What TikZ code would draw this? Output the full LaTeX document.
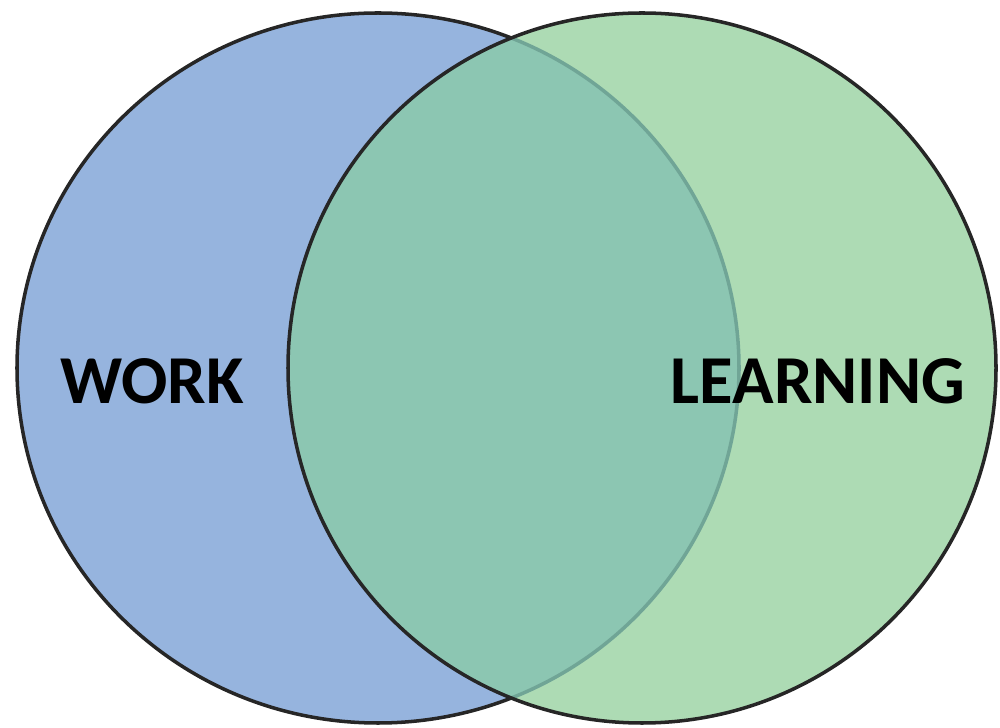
\documentclass[tikz,border=0pt]{standalone}
\usepackage{fontspec}
\setmainfont{Carlito}
\usetikzlibrary{positioning}
\definecolor{workblue}{RGB}{150,180,222}
\definecolor{learngreen}{RGB}{173,219,180}
\definecolor{overlapteal}{RGB}{140,198,178}
\definecolor{faintline}{RGB}{112,165,150}

\begin{document}
\begin{tikzpicture}[
            x=0.01cm, y=-0.01cm,
            font=\fontsize{19.5}{23}\selectfont\bfseries,
            rim/.style={draw=black!85, line width=1pt},
            label/.style={inner sep=0pt, text=black},
            ]

            \useasboundingbox (0,0) rectangle (1000,728);

            % the two sets
            \fill[workblue] (378,368) ellipse [x radius=361, y radius=355];
            \draw[rim] (378,368) ellipse [x radius=361, y radius=355];
            \fill[learngreen] (642,368) ellipse [x radius=354, y radius=355];

            % shared part
            \begin{scope}
                \clip (378,368) ellipse [x radius=361, y radius=355];
                \fill[overlapteal] (642,368) ellipse [x radius=354, y radius=355];
            \end{scope}
            \begin{scope}
                \clip (642,368) ellipse [x radius=354, y radius=355];
                \draw[faintline, line width=1pt] (378,368) ellipse [x radius=361, y radius=355];
            \end{scope}
            \draw[rim] (642,368) ellipse [x radius=354, y radius=355];

            \node[label] (work) at (152,381) {WORK};
            \node[label] (learning) at (818,381) {LEARNING};
        \end{tikzpicture}
\end{document}
